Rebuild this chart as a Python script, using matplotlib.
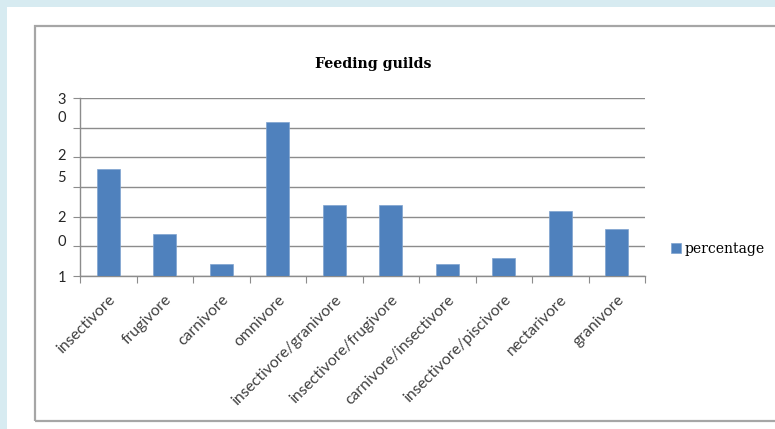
import matplotlib.pyplot as plt
import matplotlib.transforms as mtransforms
from matplotlib.patches import Rectangle

guilds = [
    "insectivore", "frugivore", "carnivore", "omnivore",
    "insectivore/granivore", "insectivore/frugivore",
    "carnivore/insectivore", "insectivore/piscivore",
    "nectarivore", "granivore",
]
percentage = [18, 7, 2, 26, 12, 12, 2, 3, 11, 8]

# y-axis labels come out split across lines, one digit per row
ylabel_digits = ["3", "0", "2", "5", "2", "0", "1"]
ylabel_at = [29.7, 26.6, 20.3, 16.6, 9.85, 5.8, -0.4]

bar_color = "#4f81bd"
grid_color = "#8c8c8c"

fig = plt.figure(figsize=(7.75, 4.29), dpi=100)
fig.patch.set_facecolor("#d7ebf1")

# white page and the chart frame
fig.patches.append(Rectangle((7 / 775, 0), 1, 1 - 7 / 429, transform=fig.transFigure,
                             facecolor="white", edgecolor="none", zorder=-2))
fig.patches.append(Rectangle((35 / 775, 8 / 429), 1, (421 - 26) / 429,
                             transform=fig.transFigure, facecolor="none",
                             edgecolor="#a6a6a6", linewidth=1.6, zorder=-1))

ax = fig.add_axes([80 / 775, (429 - 276) / 429, 565 / 775, 178 / 429])
ax.set_facecolor("none")
ax.set_zorder(2)

x = list(range(len(guilds)))
ax.bar(x, percentage, width=0.4, color=bar_color, edgecolor="#7fa3d0",
       linewidth=0.5, zorder=3, label="percentage")

ax.set_xlim(-0.5, len(guilds) - 0.5)
ax.set_ylim(0, 30)
ax.set_yticks(range(0, 31, 5))
ax.set_yticklabels([])
ax.yaxis.grid(True, color=grid_color, linewidth=1.0, zorder=1)

ax.set_xticks([i - 0.5 for i in range(len(guilds) + 1)])
ax.set_xticklabels([])
ax.set_xticks(x, minor=True)
labels = ax.set_xticklabels(guilds, minor=True, rotation=45, ha="right",
                            rotation_mode="anchor", fontsize=11.3, family="Lato",
                            color="#404040")
shift = mtransforms.ScaledTranslation(-4 / 100, 0, fig.dpi_scale_trans)
for lab in labels:
    lab.set_transform(lab.get_transform() + shift)
ax.tick_params(axis="x", which="minor", length=0, pad=12)
ax.tick_params(axis="x", which="major", length=5, color=grid_color)
ax.tick_params(axis="y", length=5, color=grid_color)

for side in ["top", "right"]:
    ax.spines[side].set_visible(False)
for side in ["left", "bottom"]:
    ax.spines[side].set_color(grid_color)
    ax.spines[side].set_linewidth(1.0)

trans = mtransforms.blended_transform_factory(ax.transAxes, ax.transData)
for digit, yv in zip(ylabel_digits, ylabel_at):
    ax.text(-0.032, yv, digit, transform=trans, ha="center", va="center",
            fontsize=10.5, family="Lato", color="#262626")

fig.text(373 / 775, 1 - 64 / 429, "Feeding guilds", ha="center", va="center",
         fontsize=10.2, fontweight="bold", family="DejaVu Serif")

ax.legend(loc="center left", bbox_to_anchor=(671 / 775, 1 - 249 / 429),
          bbox_transform=fig.transFigure, frameon=False, handlelength=0.75,
          handleheight=0.75, handletextpad=0.25, borderpad=0, borderaxespad=0,
          prop={"family": "DejaVu Serif", "size": 10})

fig.savefig("out.png", dpi=100, facecolor=fig.get_facecolor())
